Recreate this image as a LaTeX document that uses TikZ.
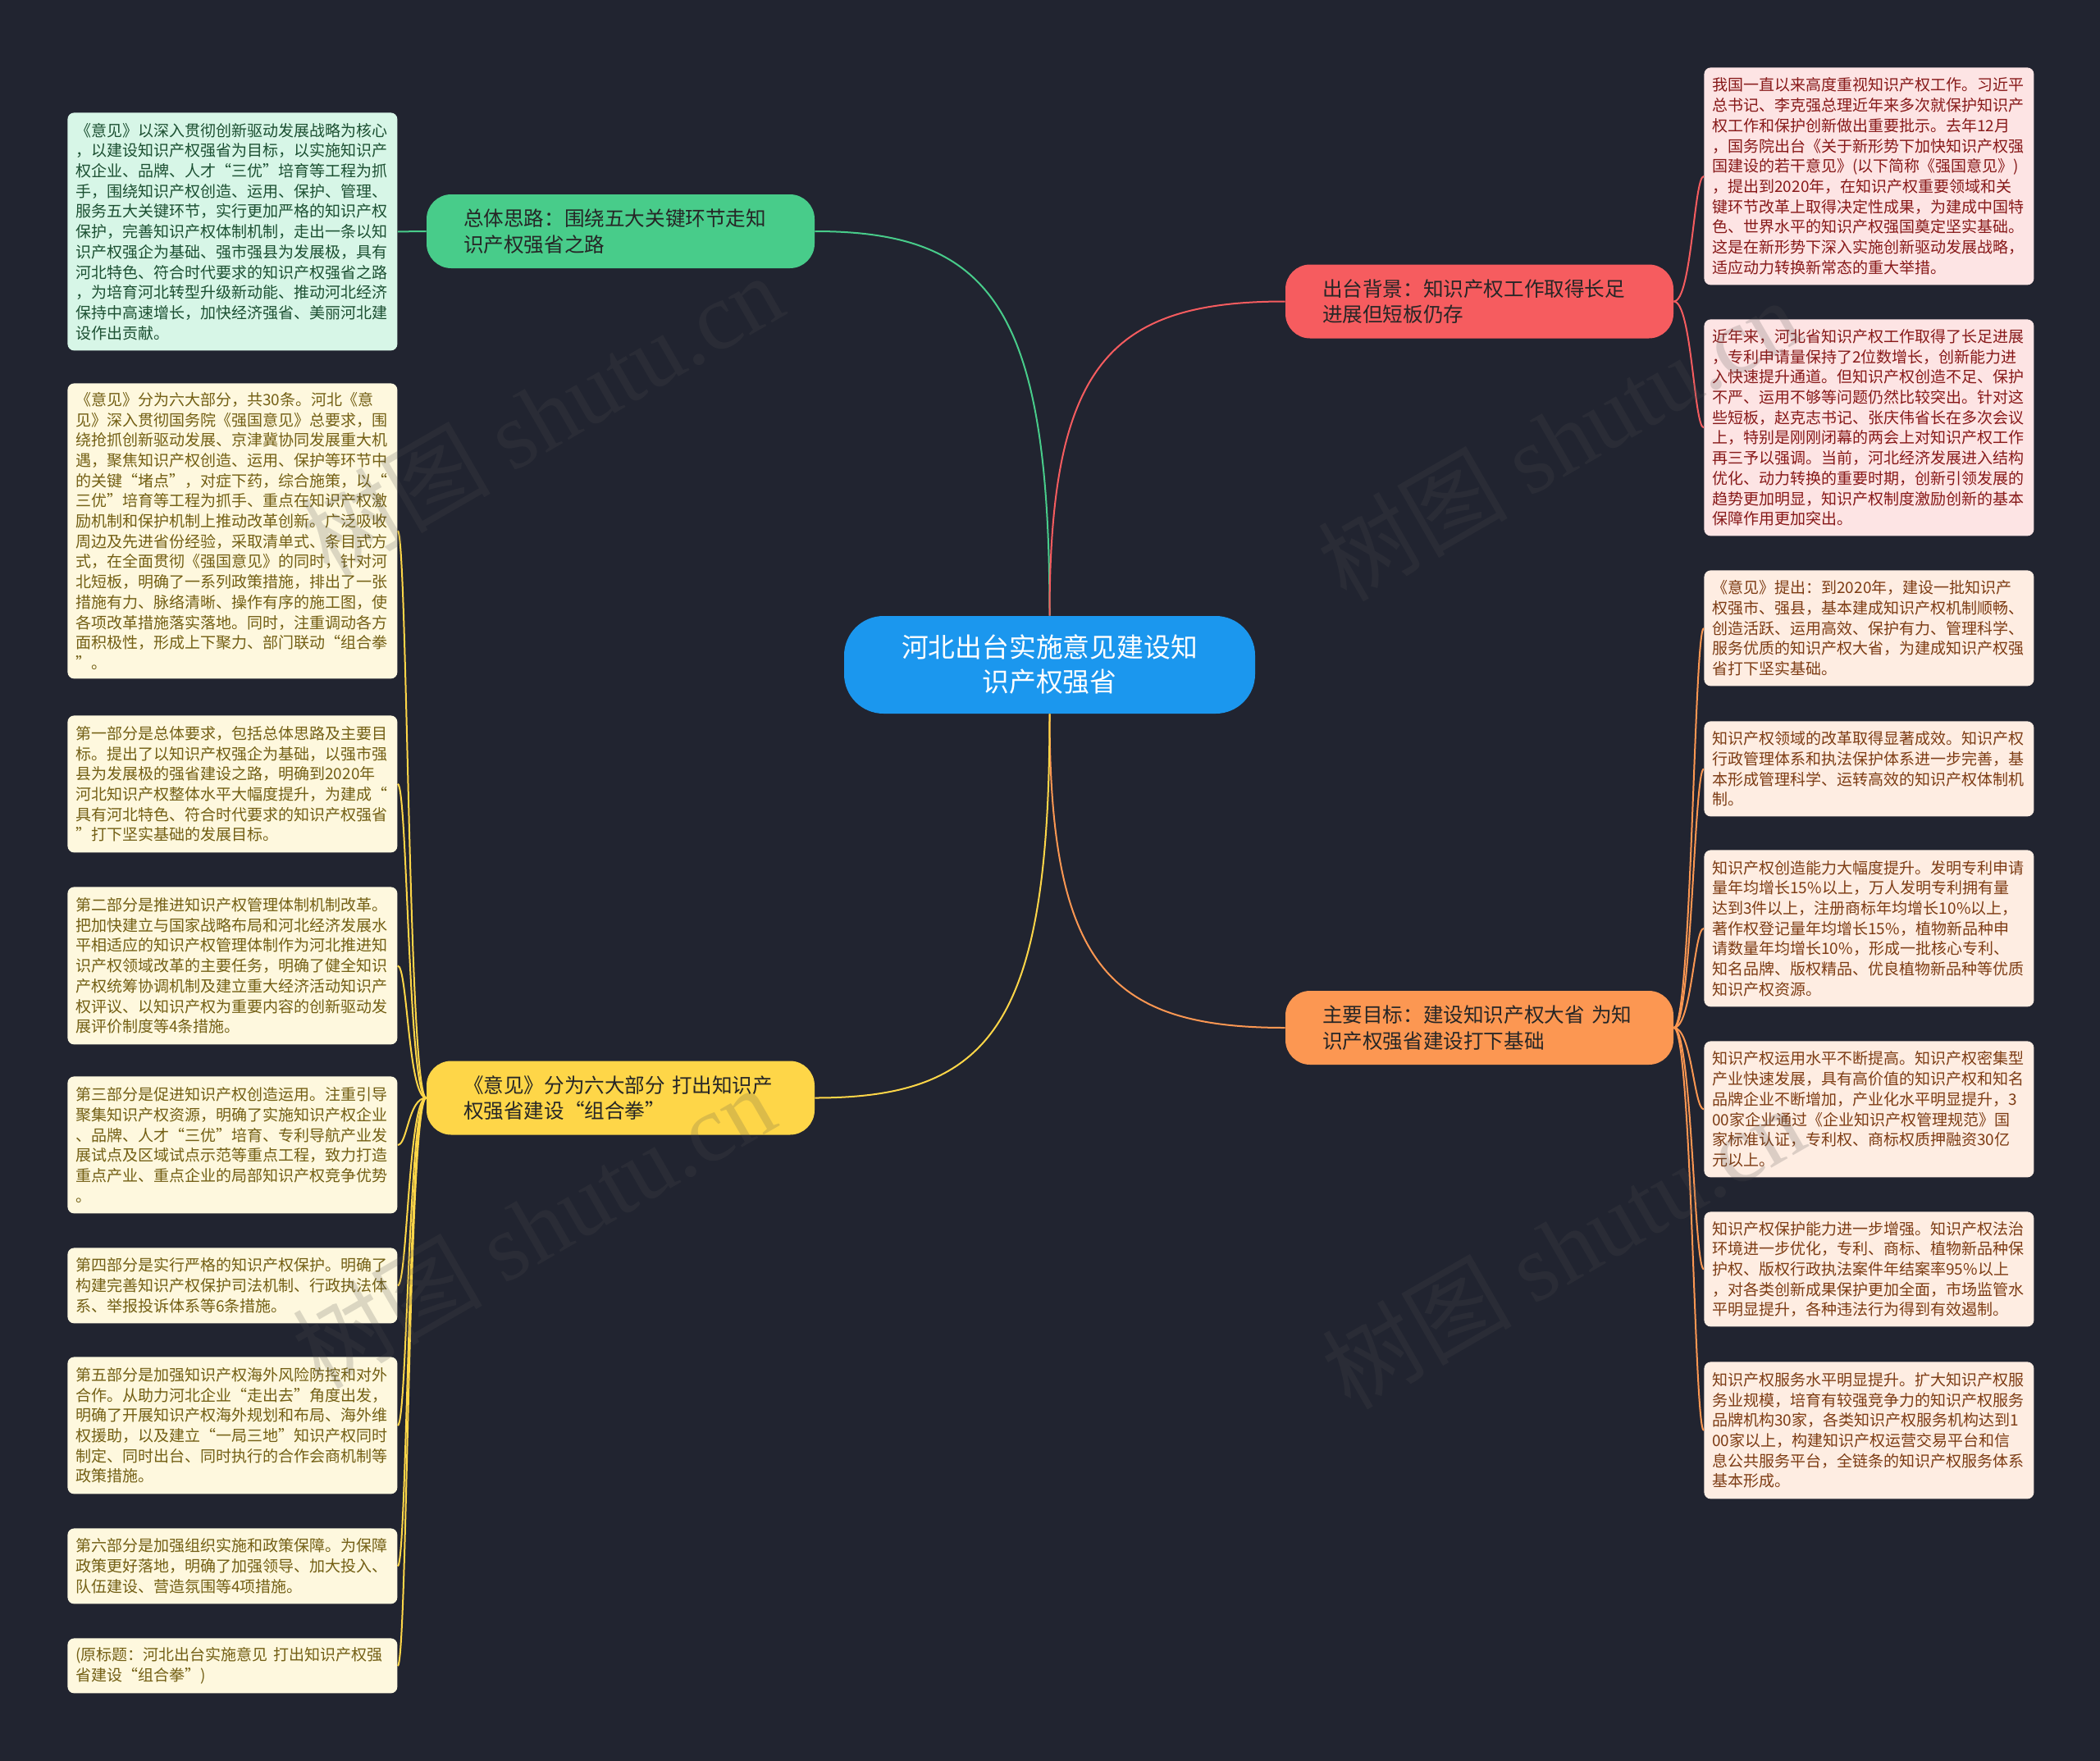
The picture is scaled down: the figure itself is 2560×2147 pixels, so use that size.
\documentclass[tikz,border=0pt]{standalone}
\usepackage{fontspec}
\setmainfont{Noto Sans CJK SC}
\newfontfamily\wmserif{Liberation Serif}
\usetikzlibrary{positioning}

\definecolor{bgdark}{RGB}{33,36,48}
\definecolor{hubblue}{RGB}{27,151,238}
\definecolor{topicgreen}{RGB}{72,204,138}
\definecolor{topicred}{RGB}{246,92,95}
\definecolor{topicorange}{RGB}{252,151,82}
\definecolor{topicyellow}{RGB}{254,214,72}
\definecolor{topictext}{RGB}{38,38,38}
\definecolor{leafgreen}{RGB}{215,246,231}
\definecolor{leafyellow}{RGB}{254,248,222}
\definecolor{leafred}{RGB}{253,228,228}
\definecolor{leaforange}{RGB}{254,237,226}
\definecolor{inkgreen}{RGB}{28,80,50}
\definecolor{inkyellow}{RGB}{115,95,20}
\definecolor{inkred}{RGB}{135,25,25}
\definecolor{inkorange}{RGB}{125,60,20}
\definecolor{wmgray}{RGB}{80,80,80}

\begin{document}
\begin{tikzpicture}[
  x=0.5pt,y=0.5pt,
  hub/.style={fill=hubblue,text=white,rounded corners=24pt,minimum width=250.5pt,
    minimum height=59.5pt,align=center,font=\fontsize{16.4pt}{21pt}\selectfont},
  topic/.style={fill=#1,text=topictext,rounded corners=15pt,minimum height=45pt,
    text width=191.5pt,inner xsep=22.5pt,align=left,font=\fontsize{12.3pt}{15.8pt}\selectfont},
  leaf/.style 2 args={fill=#1,text=#2,rounded corners=4pt,anchor=north west,
    text width=191pt,inner xsep=5pt,align=left,font=\fontsize{9.5pt}{12.35pt}\selectfont},
  wire/.style={draw=#1,line width=1pt},
  wm/.style={rotate=30,text=wmgray,opacity=0.2,font=\fontsize{58pt}{58pt}\selectfont},
]
  \fill[bgdark] (0,0) rectangle (2560,-2147);

  \node[hub] (hub) at (1279.5,-810.5) {河北出台实施意见建设知\\识产权强省};

  \node[topic=topicgreen] (silu) at (756.5,-282) {总体思路：围绕五大关键环节走知\\识产权强省之路};
  \node[topic=topicred] (beijing) at (1803.5,-367.5) {出台背景：知识产权工作取得长足\\进展但短板仍存};
  \node[topic=topicorange] (mubiao) at (1803.5,-1253) {主要目标：建设知识产权大省 为知\\识产权强省建设打下基础};
  \node[topic=topicyellow] (bufen) at (756.5,-1338.5) {《意见》分为六大部分 打出知识产\\权强省建设“组合拳”};

  \draw[wire=topicgreen] (hub.north) to[out=90,in=0,out distance=187pt,in distance=108pt] (silu.east);
  \draw[wire=topicred] (hub.north) to[out=90,in=180,out distance=153pt,in distance=107pt] (beijing.west);
  \draw[wire=topicorange] (hub.south) to[out=-90,in=180,out distance=154pt,in distance=107pt] (mubiao.west);
  \draw[wire=topicyellow] (hub.south) to[out=-90,in=0,out distance=189pt,in distance=108pt] (bufen.east);

  \node[leaf={leafgreen}{inkgreen},minimum height=145pt] (silu1) at (82,-137) {%
《意见》以深入贯彻创新驱动发展战略为核心\\
，以建设知识产权强省为目标，以实施知识产\\
权企业、品牌、人才“三优”培育等工程为抓\\
手，围绕知识产权创造、运用、保护、管理、\\
服务五大关键环节，实行更加严格的知识产权\\
保护，完善知识产权体制机制，走出一条以知\\
识产权强企为基础、强市强县为发展极，具有\\
河北特色、符合时代要求的知识产权强省之路\\
，为培育河北转型升级新动能、推动河北经济\\
保持中高速增长，加快经济强省、美丽河北建\\
设作出贡献。};

  \node[leaf={leafyellow}{inkyellow},minimum height=180pt] (bufen1) at (82,-467) {%
《意见》分为六大部分，共30条。河北《意\\
见》深入贯彻国务院《强国意见》总要求，围\\
绕抢抓创新驱动发展、京津冀协同发展重大机\\
遇，聚焦知识产权创造、运用、保护等环节中\\
的关键“堵点”，对症下药，综合施策，以“\\
三优”培育等工程为抓手、重点在知识产权激\\
励机制和保护机制上推动改革创新。广泛吸收\\
周边及先进省份经验，采取清单式、条目式方\\
式，在全面贯彻《强国意见》的同时，针对河\\
北短板，明确了一系列政策措施，排出了一张\\
措施有力、脉络清晰、操作有序的施工图，使\\
各项改革措施落实落地。同时，注重调动各方\\
面积极性，形成上下聚力、部门联动“组合拳\\
”。};
  \node[leaf={leafyellow}{inkyellow},minimum height=83.5pt] (bufen2) at (82,-872) {%
第一部分是总体要求，包括总体思路及主要目\\
标。提出了以知识产权强企为基础，以强市强\\
县为发展极的强省建设之路，明确到2020年\\
河北知识产权整体水平大幅度提升，为建成“\\
具有河北特色、符合时代要求的知识产权强省\\
”打下坚实基础的发展目标。};
  \node[leaf={leafyellow}{inkyellow},minimum height=96pt] (bufen3) at (82,-1081) {%
第二部分是推进知识产权管理体制机制改革。\\
把加快建立与国家战略布局和河北经济发展水\\
平相适应的知识产权管理体制作为河北推进知\\
识产权领域改革的主要任务，明确了健全知识\\
产权统筹协调机制及建立重大经济活动知识产\\
权评议、以知识产权为重要内容的创新驱动发\\
展评价制度等4条措施。};
  \node[leaf={leafyellow}{inkyellow},minimum height=83.5pt] (bufen4) at (82,-1312) {%
第三部分是促进知识产权创造运用。注重引导\\
聚集知识产权资源，明确了实施知识产权企业\\
、品牌、人才“三优”培育、专利导航产业发\\
展试点及区域试点示范等重点工程，致力打造\\
重点产业、重点企业的局部知识产权竞争优势\\
。};
  \node[leaf={leafyellow}{inkyellow},minimum height=46pt] (bufen5) at (82,-1521) {%
第四部分是实行严格的知识产权保护。明确了\\
构建完善知识产权保护司法机制、行政执法体\\
系、举报投诉体系等6条措施。};
  \node[leaf={leafyellow}{inkyellow},minimum height=83.5pt] (bufen6) at (82,-1654) {%
第五部分是加强知识产权海外风险防控和对外\\
合作。从助力河北企业“走出去”角度出发，\\
明确了开展知识产权海外规划和布局、海外维\\
权援助，以及建立“一局三地”知识产权同时\\
制定、同时出台、同时执行的合作会商机制等\\
政策措施。};
  \node[leaf={leafyellow}{inkyellow},minimum height=46pt] (bufen7) at (82,-1863) {%
第六部分是加强组织实施和政策保障。为保障\\
政策更好落地，明确了加强领导、加大投入、\\
队伍建设、营造氛围等4项措施。};
  \node[leaf={leafyellow}{inkyellow},minimum height=33.5pt] (bufen8) at (82,-1997) {%
(原标题：河北出台实施意见 打出知识产权强\\
省建设“组合拳”)};

  \node[leaf={leafred}{inkred},minimum height=132.5pt] (beijing1) at (2077,-82) {%
我国一直以来高度重视知识产权工作。习近平\\
总书记、李克强总理近年来多次就保护知识产\\
权工作和保护创新做出重要批示。去年12月\\
，国务院出台《关于新形势下加快知识产权强\\
国建设的若干意见》(以下简称《强国意见》)\\
，提出到2020年，在知识产权重要领域和关\\
键环节改革上取得决定性成果，为建成中国特\\
色、世界水平的知识产权强国奠定坚实基础。\\
这是在新形势下深入实施创新驱动发展战略，\\
适应动力转换新常态的重大举措。};
  \node[leaf={leafred}{inkred},minimum height=132pt] (beijing2) at (2077,-389) {%
近年来，河北省知识产权工作取得了长足进展\\
，专利申请量保持了2位数增长，创新能力进\\
入快速提升通道。但知识产权创造不足、保护\\
不严、运用不够等问题仍然比较突出。针对这\\
些短板，赵克志书记、张庆伟省长在多次会议\\
上，特别是刚刚闭幕的两会上对知识产权工作\\
再三予以强调。当前，河北经济发展进入结构\\
优化、动力转换的重要时期，创新引领发展的\\
趋势更加明显，知识产权制度激励创新的基本\\
保障作用更加突出。};

  \node[leaf={leaforange}{inkorange},minimum height=70.5pt] (mubiao1) at (2077,-695) {%
《意见》提出：到2020年，建设一批知识产\\
权强市、强县，基本建成知识产权机制顺畅、\\
创造活跃、运用高效、保护有力、管理科学、\\
服务优质的知识产权大省，为建成知识产权强\\
省打下坚实基础。};
  \node[leaf={leaforange}{inkorange},minimum height=58pt] (mubiao2) at (2077,-879) {%
知识产权领域的改革取得显著成效。知识产权\\
行政管理体系和执法保护体系进一步完善，基\\
本形成管理科学、运转高效的知识产权体制机\\
制。};
  \node[leaf={leaforange}{inkorange},minimum height=95.5pt] (mubiao3) at (2077,-1036) {%
知识产权创造能力大幅度提升。发明专利申请\\
量年均增长15\%以上，万人发明专利拥有量\\
达到3件以上，注册商标年均增长10\%以上，\\
著作权登记量年均增长15\%，植物新品种申\\
请数量年均增长10\%，形成一批核心专利、\\
知名品牌、版权精品、优良植物新品种等优质\\
知识产权资源。};
  \node[leaf={leaforange}{inkorange},minimum height=83pt] (mubiao4) at (2077,-1269) {%
知识产权运用水平不断提高。知识产权密集型\\
产业快速发展，具有高价值的知识产权和知名\\
品牌企业不断增加，产业化水平明显提升，3\\
00家企业通过《企业知识产权管理规范》国\\
家标准认证，专利权、商标权质押融资30亿\\
元以上。};
  \node[leaf={leaforange}{inkorange},minimum height=70pt] (mubiao5) at (2077,-1477) {%
知识产权保护能力进一步增强。知识产权法治\\
环境进一步优化，专利、商标、植物新品种保\\
护权、版权行政执法案件年结案率95\%以上\\
，对各类创新成果保护更加全面，市场监管水\\
平明显提升，各种违法行为得到有效遏制。};
  \node[leaf={leaforange}{inkorange},minimum height=83.5pt] (mubiao6) at (2077,-1660) {%
知识产权服务水平明显提升。扩大知识产权服\\
务业规模，培育有较强竞争力的知识产权服务\\
品牌机构30家，各类知识产权服务机构达到1\\
00家以上，构建知识产权运营交易平台和信\\
息公共服务平台，全链条的知识产权服务体系\\
基本形成。};

  \draw[wire=topicgreen] (silu.west) -- (silu1.east);
  \foreach \i in {1,...,8}
    \draw[wire=topicyellow] (bufen.west) to[out=180,in=0,out distance=11pt,in distance=6pt] (bufen\i.east);
  \foreach \i in {1,2}
    \draw[wire=topicred] (beijing.east) to[out=0,in=180,out distance=11pt,in distance=6pt] (beijing\i.west);
  \foreach \i in {1,...,6}
    \draw[wire=topicorange] (mubiao.east) to[out=0,in=180,out distance=11pt,in distance=6pt] (mubiao\i.west);

  \foreach \px/\py in {660/505,1900/535,650/1495,1905/1520}
    \node[wm] at (\px,-\py) {树图 {\wmserif shutu.cn}};
\end{tikzpicture}
\end{document}
